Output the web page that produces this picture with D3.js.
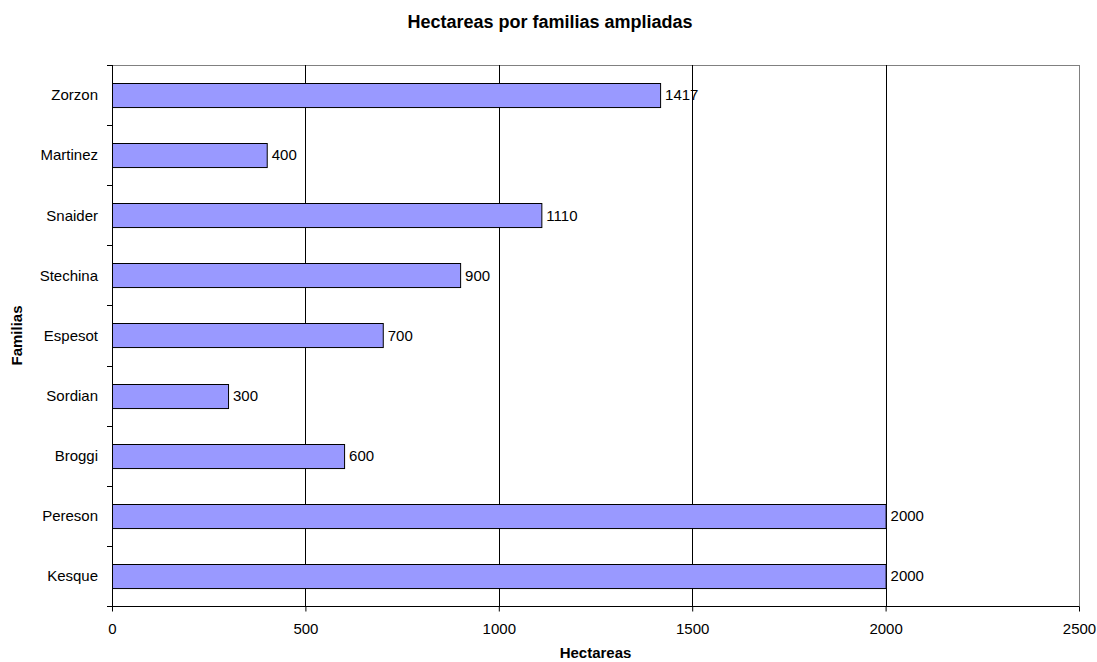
<!doctype html>
<meta charset="utf-8">
<script src="https://d3js.org/d3.v7.min.js"></script>
<style>
  body { margin: 0; background: #fff; }
  text { font-family: Arial, "Liberation Sans", sans-serif; fill: #000; }
</style>
<body>
<script>

var familias = ["Zorzon", "Martinez", "Snaider", "Stechina", "Espesot", "Sordian", "Broggi", "Pereson", "Kesque"];
var hectareas = [1417, 400, 1110, 900, 700, 300, 600, 2000, 2000];
var xTicks = [0, 500, 1000, 1500, 2000, 2500];

var width = 1097;
var height = 662;
var plotLeft = 112, plotRight = 1079, plotTop = 65, plotBottom = 606;

var svg = d3.select("body")
        .append("svg")
        .attr("width", width)
        .attr("height", height);

var x = d3.scaleLinear()
        .domain([0, 2500])
        .range([plotLeft, plotRight]);

var y = d3.scaleBand()
        .domain(familias)
        .range([plotTop, plotBottom])
        .paddingInner(0.6)
        .paddingOuter(0.3);

// frame
svg.append("rect")
        .attr("x", plotLeft + 0.5)
        .attr("y", plotTop + 0.5)
        .attr("width", plotRight - plotLeft)
        .attr("height", plotBottom - plotTop)
        .style("fill", "none")
        .style("stroke", "#808080");

// gridlines
svg.selectAll("line.grid")
        .data(xTicks.slice(1, -1))
        .enter()
        .append("line")
        .attr("x1", function(d){ return Math.round(x(d)) + 0.5; })
        .attr("x2", function(d){ return Math.round(x(d)) + 0.5; })
        .attr("y1", plotTop)
        .attr("y2", plotBottom)
        .style("stroke", "#000");

// bars
svg.selectAll("rect.bar")
        .data(familias)
        .enter()
        .append("rect")
        .attr("x", plotLeft + 0.5)
        .attr("y", function(d){ return Math.round(y(d)) + 0.5; })
        .attr("width", function(d, i){ return x(hectareas[i]) - plotLeft; })
        .attr("height", y.bandwidth())
        .style("fill", "#9999ff")
        .style("stroke", "#000")
        .style("stroke-width", 1);

// value labels
svg.selectAll("text.val")
        .data(familias)
        .enter()
        .append("text")
        .attr("x", function(d, i){ return x(hectareas[i]) + 5; })
        .attr("y", function(d){ return y(d) + y.bandwidth() / 2; })
        .attr("dy", "0.35em")
        .style("font-size", "15px")
        .text(function(d, i){ return hectareas[i]; });

// x axis
var xAxis = d3.axisBottom(x)
        .tickValues(xTicks)
        .tickSize(5)
        .tickPadding(12)
        .tickFormat(d3.format("d"));

var gx = svg.append("g")
        .attr("transform", "translate(0," + (plotBottom + 0.5) + ")")
        .call(xAxis);
gx.selectAll("line, path").style("stroke", "#000");
gx.select("path").attr("d", "M" + plotLeft + ",0H" + plotRight);
gx.selectAll("text").style("font-size", "15px").style("font-family", "Arial, 'Liberation Sans', sans-serif");

// y axis: ticks at band boundaries
var step = (plotBottom - plotTop) / familias.length;
var yTicks = d3.range(familias.length + 1).map(function(i){ return plotTop + i * step; });

svg.append("line")
        .attr("x1", plotLeft + 0.5)
        .attr("x2", plotLeft + 0.5)
        .attr("y1", plotTop)
        .attr("y2", plotBottom + 5)
        .style("stroke", "#000");

svg.selectAll("line.ytick")
        .data(yTicks)
        .enter()
        .append("line")
        .attr("x1", plotLeft - 5)
        .attr("x2", plotLeft)
        .attr("y1", function(d){ return Math.round(d) + 0.5; })
        .attr("y2", function(d){ return Math.round(d) + 0.5; })
        .style("stroke", "#000");

svg.selectAll("text.cat")
        .data(familias)
        .enter()
        .append("text")
        .attr("x", 98)
        .attr("y", function(d){ return y(d) + y.bandwidth() / 2; })
        .attr("dy", "0.35em")
        .attr("text-anchor", "end")
        .style("font-size", "15px")
        .text(function(d){ return d; });

// titles
svg.append("text")
        .attr("x", 550)
        .attr("y", 28)
        .attr("text-anchor", "middle")
        .style("font-size", "18px")
        .style("font-weight", "bold")
        .text("Hectareas por familias ampliadas");

svg.append("text")
        .attr("x", (plotLeft + plotRight) / 2)
        .attr("y", 658)
        .attr("text-anchor", "middle")
        .style("font-size", "15px")
        .style("font-weight", "bold")
        .text("Hectareas");

svg.append("text")
        .attr("transform", "translate(22," + ((plotTop + plotBottom) / 2) + ") rotate(-90)")
        .attr("text-anchor", "middle")
        .style("font-size", "15px")
        .style("font-weight", "bold")
        .text("Familias");

</script>
